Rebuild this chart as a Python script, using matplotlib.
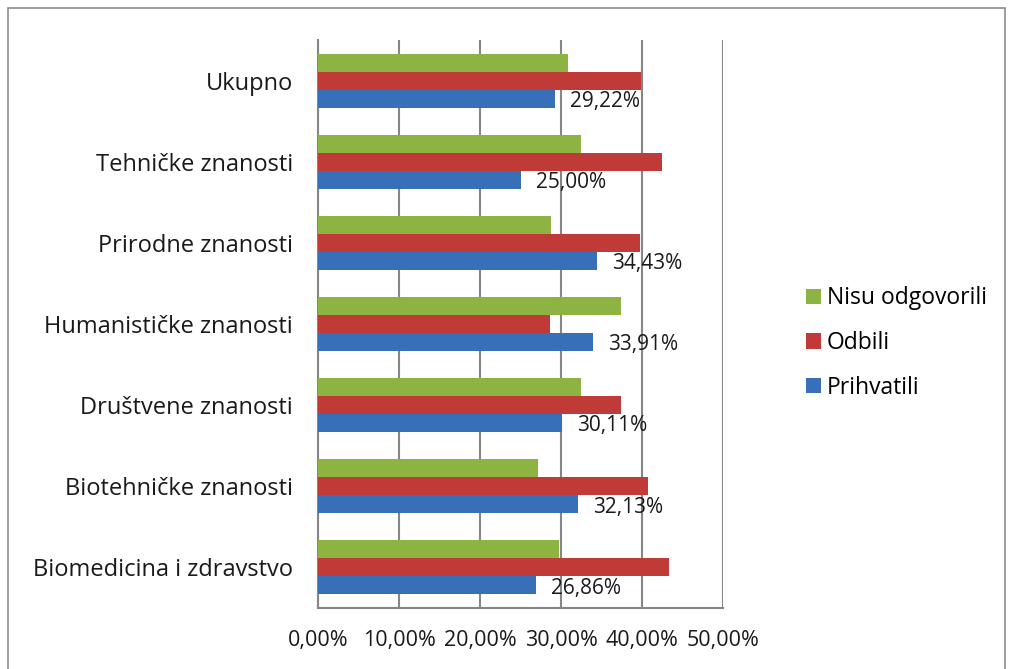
import matplotlib
matplotlib.use("Agg")
import matplotlib.pyplot as plt
from matplotlib.patches import Rectangle
import numpy as np

# data (bottom to top, as drawn)
categories = ["Biomedicina i zdravstvo", "Biotehničke znanosti", "Društvene znanosti",
              "Humanističke znanosti", "Prirodne znanosti", "Tehničke znanosti", "Ukupno"]
prihvatili = [26.86, 32.13, 30.11, 33.91, 34.43, 25.00, 29.22]
odbili = [43.3, 40.7, 37.4, 28.7, 39.8, 42.5, 39.9]
nisu_odgovorili = [29.8, 27.1, 32.5, 37.4, 28.8, 32.5, 30.9]
x_ticks = [0, 10, 20, 30, 40, 50]

plt.rcParams['font.family'] = ['Open Sans', 'DejaVu Sans']

fig = plt.figure(figsize=(10.09, 6.69), dpi=100)
ax = fig.add_axes([318 / 1009, 1 - 608 / 669, 405 / 1009, 568 / 669])

# outer chart border
fig.patches.append(Rectangle((8 / 1009, -0.05), 997 / 1009, 1.05 - 8 / 669,
                             transform=fig.transFigure, fill=False,
                             edgecolor='#8c8c8c', linewidth=1.2))

y = np.arange(len(categories))
h = 0.222
green, red, blue = '#8db443', '#c03b38', '#3770b8'

ax.barh(y + h, nisu_odgovorili, height=h, color=green, label='Nisu odgovorili', zorder=3)
ax.barh(y, odbili, height=h, color=red, label='Odbili', zorder=3)
ax.barh(y - h, prihvatili, height=h, color=blue, label='Prihvatili', zorder=3)

for yi, v in zip(y, prihvatili):
    ax.annotate(f"{v:.2f}%".replace('.', ','), xy=(v, yi - h), xytext=(11, -2),
                textcoords='offset points', va='center', ha='left',
                fontsize=15, color='#1a1a1a', zorder=4)

ax.set_xlim(0, 50)
ax.set_ylim(-0.5, len(categories) - 0.5)
ax.set_xticks(x_ticks)
ax.set_xticklabels([f"{t:.2f}%".replace('.', ',') for t in x_ticks], fontsize=15.5)
ax.set_yticks(y)
ax.set_yticklabels(categories, fontsize=17)
ax.tick_params(axis='x', length=0, pad=16, colors='#1a1a1a')
ax.tick_params(axis='y', length=0, pad=18, colors='#1a1a1a')

ax.grid(axis='x', color='#868686', linewidth=1.5, zorder=0)
for s in ['top', 'right']:
    ax.spines[s].set_visible(False)
for s in ['left', 'bottom']:
    ax.spines[s].set_color('#868686')
    ax.spines[s].set_linewidth(1.5)

fig.legend(loc='center left', bbox_to_anchor=(795 / 1009, 1 - 343 / 669),
           frameon=False, fontsize=16.5, handlelength=0.65, handleheight=0.65,
           handletextpad=0.25, labelspacing=0.9, borderpad=0)

plt.savefig("out.png", dpi=100)
